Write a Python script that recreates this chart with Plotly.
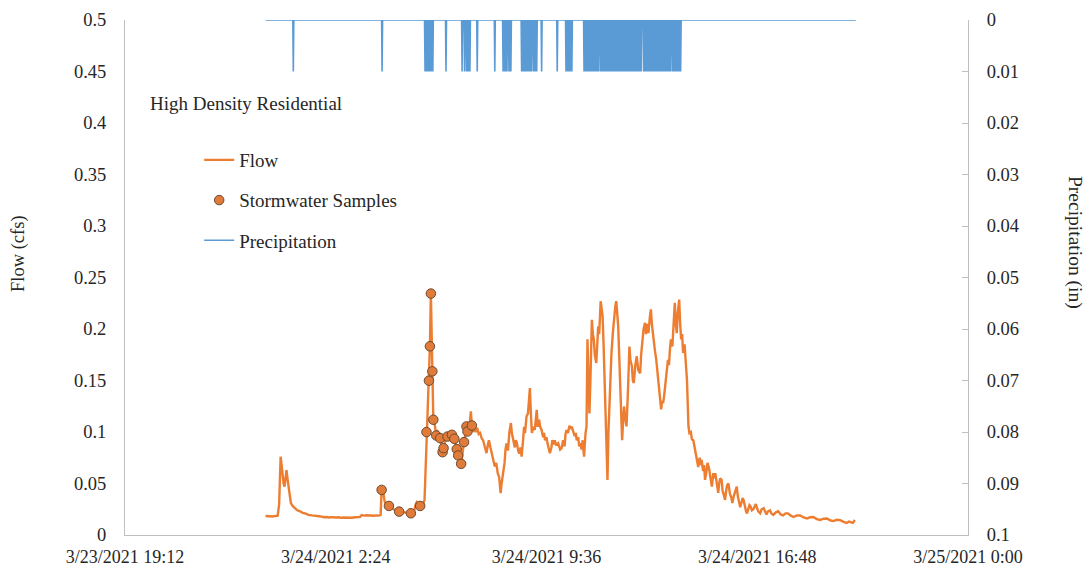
import datetime as dt
import plotly.graph_objects as go

# ---- data -------------------------------------------------------------
# Flow record (minutes after midnight on 3/24/2021, flow in cfs)
FLOW_EARLY = [
    (0, .0184), (5, .0182), (10, .0186), (15, .0180), (20, .0185), (25, .0188),
    (28, .030), (30, .065), (31, .076), (33, .068), (35, .058), (37, .050),
    (39, .047), (41, .056), (43, .063), (45, .055), (47, .047), (49, .040),
    (52, .031), (56, .028), (60, .026), (65, .024), (71, .023), (76, .0215),
    (81, .021), (88, .0195), (95, .019), (100, .0185), (105, .0180), (110, .0182),
    (115, .0178), (120, .0172), (125, .0175), (130, .0170), (135, .0173),
    (140, .0168), (145, .0170), (150, .0172), (155, .0167), (160, .0170),
    (165, .0168), (170, .0172), (175, .0167), (180, .0170), (185, .0172),
    (190, .0175), (194, .0176), (197, .0194), (202, .0188), (207, .0192),
    (212, .0188), (217, .0191), (222, .0187), (227, .0190), (232, .0188),
    (236, .0195), (238, .0438), (240, .047), (242, .038), (244, .033), (246, .031),
    (248, .029), (253, .0282), (257, .026), (262, .025), (267, .024), (274, .0227),
    (280, .0222), (286, .022), (292, .0215), (298, .0211), (302, .022), (305, .024),
    (308, .030), (310, .032), (312, .031), (314, .030), (317, .0282), (320, .029),
    (323, .030), (326, .034), (328, .060),
]
FLOW_FIRST_PEAK = [
    (330, .0999), (332, .125), (333, .130), (335, .1498), (337, .1832),
    (339, .2344), (340, .200), (342, .1589), (344, .1119), (346, .110), (348, .100),
    (350, .0966), (352, .102), (354, .099), (356, .094), (358, .094), (361, .086),
    (363, .0804), (365, .0843), (367, .090), (369, .092), (371, .097), (373, .0956),
    (375, .099), (377, .100), (380, .095), (382, .0973), (385, .095), (387, .0934),
    (390, .088), (392, .0834), (395, .0772), (398, .082), (401, .0691), (404, .080),
    (407, .0902), (410, .100), (412, .1054), (414, .1005), (416, .104), (418, .105),
    (420, .115), (421, .120), (423, .1063), (426, .100), (428, .103), (431, .100),
    (434, .104), (437, .098), (440, .099), (443, .094), (446, .092), (449, .086),
    (453, .0795), (456, .088), (458, .092), (461, .085), (464, .079), (467, .073),
    (470, .0665), (473, .070), (476, .060), (479, .056), (482, .0406), (484, .050),
    (487, .060), (490, .070), (492, .083), (494, .089), (497, .082), (500, .100),
    (503, .1087), (505, .099), (508, .092), (511, .085), (513, .092), (515, .090),
    (518, .082), (520, .079), (523, .085), (525, .076), (528, .092), (530, .105),
    (532, .099), (535, .115), (538, .118), (540, .128), (542, .1427), (544, .118),
    (546, .099), (549, .105), (552, .102), (554, .112), (556, .1216), (558, .105),
    (561, .112), (563, .105), (566, .102), (569, .095), (571, .099), (573, .092),
    (576, .095), (578, .089), (581, .083), (583, .0795), (586, .085), (588, .092),
    (591, .088), (593, .092), (596, .087), (600, .089), (604, .083), (607, .0843),
    (610, .092), (613, .086), (615, .098), (617, .102), (620, .099), (623, .106),
    (626, .104), (628, .105), (631, .100), (634, .096), (636, .099), (638, .092),
    (641, .095), (643, .086), (645, .089), (648, .083), (650, .092), (653, .076),
    (656, .099), (658, .105),
]
FLOW_MAIN_PEAK = [
    (660, .190), (662, .160), (664, .118), (666, .150), (669, .209), (671, .195),
    (673, .190), (675, .175), (678, .167), (680, .185), (682, .2026), (684, .195),
    (687, .227), (689, .220), (691, .2124), (693, .185), (696, .141), (698, .110),
    (701, .0535), (703, .100), (706, .1476), (709, .175), (712, .196), (715, .215),
    (717, .222), (719, .227), (721, .215), (723, .2026), (725, .175), (727, .141),
    (729, .120), (731, .092), (733, .110), (735, .1248), (737, .115), (740, .1054),
    (743, .140), (746, .183), (748, .170), (751, .1638), (753, .150), (755, .1476),
    (758, .165), (761, .1735), (764, .160), (768, .157), (770, .175), (773, .193),
    (775, .200), (778, .206), (780, .195), (783, .205), (785, .196), (788, .212),
    (790, .219), (792, .205), (795, .190), (798, .180), (801, .170), (803, .160),
    (806, .151), (808, .135), (811, .122), (813, .130), (815, .128), (817, .1346),
    (820, .145), (822, .157), (825, .170), (827, .165), (829, .180), (831, .190),
    (834, .183), (836, .205), (839, .2254), (841, .205), (843, .196), (845, .215),
    (848, .2286), (850, .205), (852, .190), (854, .195), (856, .1767), (859, .185),
    (862, .1638), (864, .150), (867, .1054),
]
FLOW_RECESSION = [
    (869, .099), (872, .100), (874, .093), (877, .092), (880, .085), (882, .080),
    (884, .073), (887, .066), (890, .075), (892, .068), (894, .073), (897, .062),
    (899, .068), (901, .0535), (904, .062), (906, .070), (909, .065), (911, .058),
    (913, .052), (915, .047), (918, .060), (920, .055), (922, .060), (925, .048),
    (928, .041), (930, .050), (932, .055), (935, .0535), (937, .043), (940, .038),
    (942, .034), (944, .042), (946, .048), (949, .050), (952, .040), (955, .036),
    (957, .031), (960, .038), (963, .042), (966, .047), (968, .038), (971, .030),
    (973, .027), (976, .032), (978, .036), (980, .034), (983, .026), (985, .023),
    (987, .021), (990, .027), (992, .029), (994, .028), (997, .024), (1000, .025),
    (1003, .028), (1005, .030), (1007, .027), (1010, .023), (1014, .021),
    (1017, .025), (1021, .026), (1024, .022), (1027, .020), (1030, .023),
    (1034, .024), (1037, .021), (1041, .0195), (1046, .022), (1051, .023),
    (1056, .020), (1061, .019), (1066, .021), (1071, .021), (1076, .019),
    (1082, .0175), (1089, .019), (1096, .019), (1103, .017), (1110, .016),
    (1116, .0172), (1123, .0175), (1130, .0155), (1137, .0146), (1144, .0158),
    (1151, .016), (1157, .0143), (1164, .0135), (1171, .0148), (1178, .0145),
    (1185, .0128), (1191, .0117), (1196, .013), (1200, .0125), (1204, .0118),
    (1208, .0146),
]

# Stormwater sample collection (minutes after midnight on 3/24/2021, flow in cfs)
SAMPLE_MIN = [238, 253, 274, 298, 317, 330, 335, 337, 339, 342, 344, 350, 358, 363,
              365, 373, 382, 387, 392, 395, 401, 407, 412, 414, 423]
SAMPLE_CFS = [0.0438, 0.0282, 0.0227, 0.0211, 0.0282, 0.0999, 0.1498, 0.1832, 0.2344,
              0.1589, 0.1119, 0.0966, 0.0940, 0.0804, 0.0843, 0.0956, 0.0973, 0.0934,
              0.0834, 0.0772, 0.0691, 0.0902, 0.1054, 0.1005, 0.1063]

# Rain gauge tips (0.01 in each), minutes after midnight on 3/24/2021
PRECIP_TIP_MIN = [57, 239,
                  327, 330, 333, 336, 338, 341, 343,
                  370,
                  403, 408, 412, 415, 417, 419,
                  434, 470,
                  487, 490, 493, 495, 499, 501, 503,
                  525, 528, 531, 534, 537, 540, 543, 546, 550, 553, 556,
                  566, 598,
                  616, 619, 622, 625, 628,
                  653, 656, 659, 662, 665, 668, 671, 674, 677, 680, 682,
                  686, 689, 692, 695, 698, 701, 704, 707, 710, 713, 716, 719, 722,
                  725, 728, 731, 734, 737, 740, 743, 746, 749, 752, 755, 758, 761,
                  764, 767, 770,
                  775, 778, 780,
                  783, 786, 789, 792, 795, 798, 801, 804, 807, 810, 813, 816, 819,
                  822, 825, 828, 831,
                  835, 838, 840,
                  842, 845, 848, 851]
PRECIP_TIP_IN = 0.01
PRECIP_RECORD_MIN = (0, 1210)

# Axis ticks
X_TICKS = ["2021-03-23 19:12", "2021-03-24 02:24", "2021-03-24 09:36",
           "2021-03-24 16:48", "2021-03-25 00:00"]
X_TICK_TEXT = ["3/23/2021 19:12", "3/24/2021 2:24", "3/24/2021 9:36",
               "3/24/2021 16:48", "3/25/2021 0:00"]
FLOW_TICKS = [0, 0.05, 0.1, 0.15, 0.2, 0.25, 0.3, 0.35, 0.4, 0.45, 0.5]
FLOW_TICK_TEXT = ["0", "0.05", "0.1", "0.15", "0.2", "0.25", "0.3", "0.35", "0.4",
                  "0.45", "0.5"]
PRECIP_TICKS = [0, 0.01, 0.02, 0.03, 0.04, 0.05, 0.06, 0.07, 0.08, 0.09, 0.1]
PRECIP_TICK_TEXT = ["0", "0.01", "0.02", "0.03", "0.04", "0.05", "0.06", "0.07",
                    "0.08", "0.09", "0.1"]

# ---- helpers ----------------------------------------------------------
DAY0 = dt.datetime(2021, 3, 24)


def stamp(minutes):
    return (DAY0 + dt.timedelta(minutes=minutes)).strftime("%Y-%m-%d %H:%M:%S")


flow_readings = FLOW_EARLY + FLOW_FIRST_PEAK + FLOW_MAIN_PEAK + FLOW_RECESSION
flow_x = [stamp(t) for t, _ in flow_readings]
flow_y = [v for _, v in flow_readings]

# Gauge record: zero between tips, a one-minute spike at each tip
precip_x = [stamp(PRECIP_RECORD_MIN[0])]
precip_y = [0.0]
for t in PRECIP_TIP_MIN:
    precip_x += [stamp(t - 1), stamp(t), stamp(t + 1)]
    precip_y += [0.0, PRECIP_TIP_IN, 0.0]
precip_x.append(stamp(PRECIP_RECORD_MIN[1]))
precip_y.append(0.0)

FONT = "Liberation Serif"
TXT = "#262626"
ORANGE = "#ED7D31"
BLUE = "#5B9BD5"
AXIS = "#BFBFBF"

fig = go.Figure()
fig.add_trace(go.Scatter(
    x=flow_x, y=flow_y, name="Flow", mode="lines",
    line=dict(color=ORANGE, width=2.4), legendgroup="a"))
fig.add_trace(go.Scatter(
    x=[stamp(m) for m in SAMPLE_MIN], y=SAMPLE_CFS, name="Stormwater Samples",
    mode="markers", legendgroup="b",
    marker=dict(color="#E07B39", size=9.5, line=dict(color="#6B4A33", width=1))))
fig.add_trace(go.Scatter(
    x=precip_x, y=precip_y, name="Precipitation", mode="lines", yaxis="y2",
    line=dict(color=BLUE, width=1.6), legendgroup="c"))

fig.update_layout(
    width=1088, height=566,
    margin=dict(l=125, r=120, t=20, b=31, autoexpand=False),
    paper_bgcolor="white", plot_bgcolor="white",
    font=dict(family=FONT, size=18.5, color=TXT),
    showlegend=True,
    legend=dict(x=0.088, y=0.765, xanchor="left", yanchor="top",
                bgcolor="rgba(0,0,0,0)", tracegroupgap=12.5,
                font=dict(family=FONT, size=19, color=TXT)),
    xaxis=dict(type="date", range=[X_TICKS[0], X_TICKS[-1]],
               tickvals=X_TICKS, ticktext=X_TICK_TEXT, ticks="",
               showgrid=False, zeroline=False, showline=True, linecolor=AXIS,
               linewidth=1, tickfont=dict(size=18), ticklabelstandoff=5),
    yaxis=dict(range=[0, 0.5], tickvals=FLOW_TICKS, ticktext=FLOW_TICK_TEXT,
               ticks="", showgrid=False, zeroline=False, showline=True,
               linecolor=AXIS, linewidth=1, tickfont=dict(size=18.5),
               ticklabelstandoff=14),
    yaxis2=dict(range=[0.1, 0], overlaying="y", side="right",
                tickvals=PRECIP_TICKS, ticktext=PRECIP_TICK_TEXT,
                ticks="inside", ticklen=6, tickcolor=AXIS,
                showgrid=False, zeroline=False, showline=True, linecolor=AXIS,
                linewidth=1, tickfont=dict(size=18.5), ticklabelstandoff=14),
    annotations=[
        dict(text="High Density Residential", xref="paper", yref="paper",
             x=(148 - 125) / 843, y=(535 - 104) / 515, xanchor="left",
             yanchor="middle", showarrow=False, font=dict(size=19)),
        dict(text="Flow (cfs)", xref="paper", yref="paper",
             x=(18 - 125) / 843, y=(535 - 254) / 515, textangle=-90,
             xanchor="center", yanchor="middle", showarrow=False,
             font=dict(size=18.5)),
        dict(text="Precipitation (in)", xref="paper", yref="paper",
             x=(1075 - 125) / 843, y=(535 - 242) / 515, textangle=90,
             xanchor="center", yanchor="middle", showarrow=False,
             font=dict(size=19.5)),
    ],
)

fig.write_html("out.html")
